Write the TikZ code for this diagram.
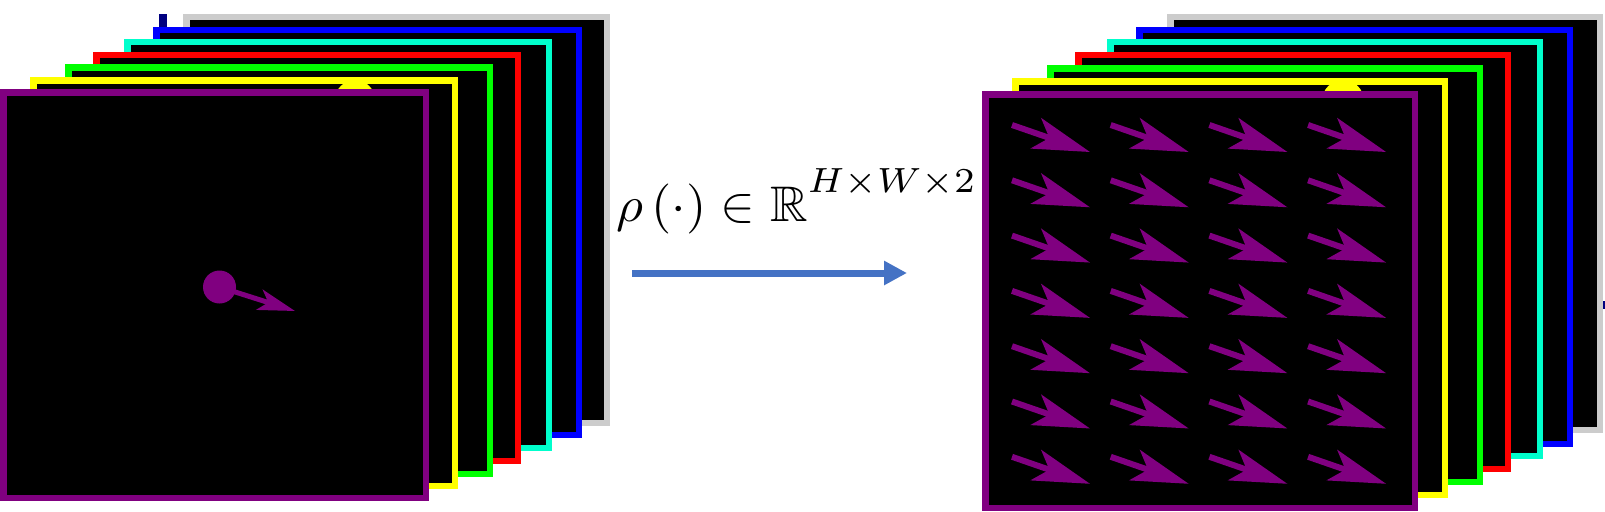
\documentclass[tikz,border=0pt]{standalone}
\usepackage{amsmath}
\usepackage{amssymb}
\usetikzlibrary{arrows.meta}
\usetikzlibrary{positioning}

\definecolor{sliceGray}{RGB}{204,204,204}
\definecolor{sliceBlue}{RGB}{0,0,255}
\definecolor{sliceCyan}{RGB}{0,255,204}
\definecolor{sliceRed}{RGB}{255,0,0}
\definecolor{sliceGreen}{RGB}{0,255,0}
\definecolor{sliceYellow}{RGB}{255,255,0}
\definecolor{slicePurple}{RGB}{128,0,128}
\definecolor{sliceNavy}{RGB}{0,0,128}
\definecolor{mapBlue}{RGB}{68,114,196}

\begin{document}
\begin{tikzpicture}[x=1pt, y=-1pt,
  slice/.style={
    % one frame of the stack
    fill=black,
    line width=6.5pt},
  flow/.style={
    % a single motion vector
    draw=slicePurple, line width=6pt,
    -{Stealth[length=57pt, width=32pt, inset=14pt]}},
  seed/.style={
    draw=slicePurple, line width=5pt,
    -{Stealth[length=37pt, width=21pt, inset=9pt]}},
  mapping/.style={
    draw=mapBlue, line width=7pt,
    -{Triangle[length=23pt, width=23pt]}}]

  \useasboundingbox (0,0) rectangle (1605,511);

  % left stack
  \fill[sliceNavy] (159,14) rectangle (167,28);
  \foreach \col/\xa/\ya/\xb/\yb in {
    sliceGray/183/14/610/426, sliceBlue/153/27/582/438,
    sliceCyan/124/39/552/451, sliceRed/93/52/521/464,
    sliceGreen/65/64/493/477, sliceYellow/30/77/458/489}
    \draw[slice, draw=\col] (\xa+3.25,\ya+3.25) rectangle (\xb-3.25,\yb-3.25);
  \fill[sliceYellow] (355,100) circle (20);
  \draw[slice, draw=slicePurple] (3.25,92.25) rectangle (425.75,497.75);

  \fill[slicePurple] (219.5,287) circle (16.5);
  \coordinate (dot) at (219.5,287);
  \coordinate (dottip) at (295,311);
  \draw[seed] (dot) -- (dottip);

  % right stack
  \fill[sliceNavy] (1602,301) rectangle (1605,309);
  \foreach \col/\xa/\ya/\xb/\yb in {
    sliceGray/1167/14/1603/433, sliceBlue/1136/27/1573/447,
    sliceCyan/1107/39/1543/459, sliceRed/1075/52/1511/472,
    sliceGreen/1047/65/1483/485, sliceYellow/1012/78/1448/498}
    \draw[slice, draw=\col] (\xa+3.25,\ya+3.25) rectangle (\xb-3.25,\yb-3.25);
  \fill[sliceYellow] (1343,101) circle (21);
  \draw[slice, draw=slicePurple] (985.25,94.25) rectangle (1414.75,507.75);

  \foreach \i in {0,...,3}
    \foreach \j in {0,...,6}
      \draw[flow] (1012+98.7*\i,125+55.3*\j) -- ++(78,27);

  % mapping between the stacks
  \coordinate (src) at (632,273);
  \coordinate (dst) at (907,273);
  \draw[mapping] (src) -- (dst);
  \node (rho) [anchor=base west, inner sep=0pt, xscale=5.2, yscale=5] at (615,221)
    {$\rho\left(\cdot\right)\in\mathbb{R}^{\raisebox{2pt}{$\scriptstyle H\times W\times 2$}}$};
\end{tikzpicture}
\end{document}
